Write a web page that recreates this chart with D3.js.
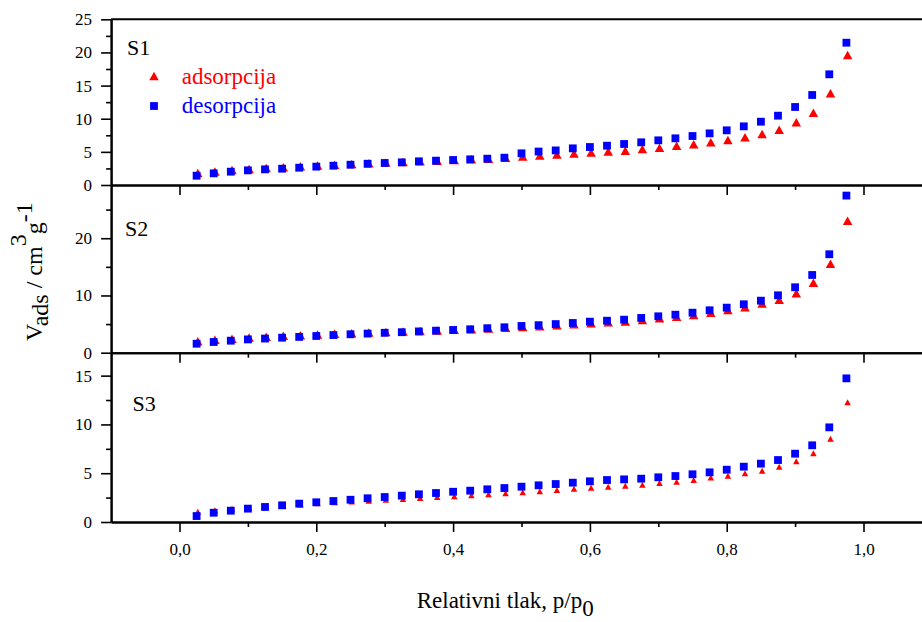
<!DOCTYPE html>
<html><head><meta charset="utf-8">
<script src="https://cdn.jsdelivr.net/npm/d3@7/dist/d3.min.js"></script>
<style>body{margin:0;background:#fff}svg{display:block}</style>
</head><body>
<svg id="c" width="922" height="622"></svg>
<script>
// ---- data ----
const pp = [0.025,0.05,0.075,0.1,0.125,0.15,0.175,0.2,0.225,0.25,0.275,0.3,0.325,0.35,0.375,0.4,0.425,0.45,0.475,0.5,
            0.525,0.55,0.575,0.6,0.625,0.65,0.675,0.7,0.725,0.75,0.775,0.8,0.825,0.85,0.875,0.9,0.925,0.95,0.975];
const ads1 = [1.8,2.05,2.25,2.42,2.57,2.68,2.82,2.93,3.04,3.16,3.28,3.38,3.48,3.58,3.67,3.77,3.87,3.96,4.1,4.3,
              4.45,4.6,4.75,4.9,5.05,5.18,5.43,5.63,5.93,6.14,6.44,6.79,7.2,7.7,8.35,9.46,10.91,13.83,19.61];
const des1 = [1.40,1.76,2.01,2.21,2.36,2.46,2.61,2.77,2.91,3.06,3.21,3.32,3.42,3.57,3.67,3.77,3.87,3.97,4.12,4.78,
              5.05,5.22,5.53,5.73,5.93,6.19,6.44,6.74,7.04,7.39,7.79,8.25,8.85,9.55,10.46,11.77,13.58,16.70,21.47];
const ads2 = [2.0,2.25,2.45,2.65,2.8,2.95,3.05,3.18,3.3,3.42,3.52,3.62,3.7,3.8,3.9,4.0,4.1,4.22,4.35,4.5,
              4.62,4.8,4.98,5.15,5.3,5.45,5.7,6.0,6.3,6.6,7.0,7.45,7.95,8.6,9.27,10.38,12.24,15.56,23.06];
const des2 = [1.57,1.87,2.10,2.32,2.47,2.62,2.76,2.92,3.08,3.22,3.34,3.48,3.58,3.72,3.85,3.97,4.09,4.28,4.44,4.67,
              4.81,5.0,5.19,5.42,5.59,5.77,6.07,6.36,6.64,6.99,7.41,7.87,8.46,9.09,10.03,11.43,13.58,17.20,27.45];
const ads3 = [1.05,1.2,1.35,1.47,1.58,1.7,1.8,1.92,2.02,2.1,2.18,2.27,2.36,2.45,2.55,2.65,2.75,2.85,2.95,3.05,
              3.15,3.27,3.4,3.5,3.62,3.72,3.82,4.0,4.13,4.30,4.55,4.74,4.99,5.26,5.67,6.22,7.04,8.54,12.26];
const des3 = [0.61,0.95,1.16,1.37,1.54,1.71,1.88,2.02,2.15,2.28,2.43,2.56,2.70,2.84,2.97,3.10,3.21,3.35,3.48,3.62,
              3.76,3.89,4.03,4.17,4.30,4.37,4.44,4.58,4.71,4.89,5.09,5.36,5.67,5.98,6.35,7.00,7.86,9.70,14.72];
const xMajor = [0,0.2,0.4,0.6,0.8,1.0];
const xMinor = [0.1,0.3,0.5,0.7,0.9];
const yMajor1 = [0,5,10,15,20,25], yMinor1 = [2.5,7.5,12.5,17.5,22.5];
const yMajor2 = [0,10,20],         yMinor2 = [5,15,25];
const yMajor3 = [0,5,10,15],       yMinor3 = [2.5,7.5,12.5];
const yMax = [25, 29.3, 17.35];
const panelNames = ['S1','S2','S3'];
const legendLabels = ['adsorpcija','desorpcija'];
const xTitle = 'Relativni tlak, p/p';
const xTitleSub = '0';

// ---- drawing ----
const svg = d3.select('#c');
const FONT = '"Liberation Serif","Times New Roman",serif';
const RED = '#ff0000', BLUE = '#0000ff';
const x = d3.scaleLinear().domain([-0.1, 1.1]).range([111.1, 931.9]);
const bands = [[185, 19.3], [352.7, 185], [522, 352.7]];
const panelData = [
  {ads: ads1, des: des1, major: yMajor1, minor: yMinor1, tri: [9.5, 8.5], sq: 7.8},
  {ads: ads2, des: des2, major: yMajor2, minor: yMinor2, tri: [9.5, 8.5], sq: 7.8},
  {ads: ads3, des: des3, major: yMajor3, minor: yMinor3, tri: [6.5, 6], sq: 7.8}
];
const comma = v => d3.format('.1f')(v).replace('.', ',');
const triPath = (w, h) => `M0,${-h/2}L${w/2},${h/2}L${-w/2},${h/2}Z`;

function styleAxis(g, labels) {
  g.select('.domain').attr('stroke', '#000').attr('stroke-width', 2);
  g.selectAll('.tick line').attr('stroke', '#000').attr('stroke-width', 1.6);
  g.selectAll('.tick text').attr('font-family', FONT).attr('font-size', 17).attr('fill', '#000');
  if (!labels) g.selectAll('.tick text').remove();
}

// top border
svg.append('line').attr('x1', x(-0.1)).attr('x2', x(1.1)).attr('y1', 19.3).attr('y2', 19.3)
  .attr('stroke', '#000').attr('stroke-width', 2);

panelData.forEach((p, i) => {
  const y = d3.scaleLinear().domain([0, yMax[i]]).range(bands[i]);
  const g = svg.append('g');
  // markers: adsorption triangles then desorption squares
  g.selectAll('path.a').data(p.ads).join('path').attr('class', 'a')
    .attr('d', triPath(p.tri[0], p.tri[1]))
    .attr('transform', (d, k) => `translate(${x(pp[k]) + 1.2},${y(d)})`)
    .attr('fill', RED);
  g.selectAll('rect.d').data(p.des).join('rect').attr('class', 'd')
    .attr('x', (d, k) => x(pp[k]) - p.sq / 2).attr('y', d => y(d) - p.sq / 2)
    .attr('width', p.sq).attr('height', p.sq).attr('fill', BLUE);

  // y axis
  const ya = svg.append('g').attr('transform', `translate(${x(-0.1)},0)`)
    .call(d3.axisLeft(y).tickValues(p.major).tickSize(10).tickSizeOuter(0).tickPadding(9).tickFormat(d3.format('d')));
  styleAxis(ya, true);
  const ym = svg.append('g').attr('transform', `translate(${x(-0.1)},0)`)
    .call(d3.axisLeft(y).tickValues(p.minor).tickSize(5).tickSizeOuter(0).tickFormat(''));
  styleAxis(ym, false);
  // x axis at bottom of panel
  const xa = svg.append('g').attr('transform', `translate(0,${bands[i][0]})`)
    .call(d3.axisBottom(x).tickValues(xMajor).tickSize(10).tickSizeOuter(0).tickPadding(11).tickFormat(comma));
  styleAxis(xa, i === 2);
  const xm = svg.append('g').attr('transform', `translate(0,${bands[i][0]})`)
    .call(d3.axisBottom(x).tickValues(xMinor).tickSize(5).tickSizeOuter(0).tickFormat(''));
  styleAxis(xm, false);
});

// panel labels
const labelPos = [[127, 55], [125, 236], [132.5, 411]];
panelNames.forEach((n, i) => {
  svg.append('text').attr('x', labelPos[i][0]).attr('y', labelPos[i][1])
    .attr('font-family', FONT).attr('font-size', 22).attr('fill', '#000').text(n);
});

// legend
const lg = svg.append('g');
lg.append('path').attr('d', triPath(9.5, 8.5)).attr('transform', 'translate(154,76)').attr('fill', RED);
lg.append('rect').attr('x', 154 - 3.9).attr('y', 106 - 3.9).attr('width', 7.8).attr('height', 7.8).attr('fill', BLUE);
lg.append('text').attr('x', 181.7).attr('y', 84).attr('font-family', FONT).attr('font-size', 23)
  .attr('fill', RED).text(legendLabels[0]);
lg.append('text').attr('x', 181.7).attr('y', 113).attr('font-family', FONT).attr('font-size', 23)
  .attr('fill', BLUE).text(legendLabels[1]);

// x title
const xt = svg.append('text').attr('x', 416.7).attr('y', 608).attr('font-family', FONT)
  .attr('font-size', 23).attr('fill', '#000');
xt.append('tspan').text(xTitle);
xt.append('tspan').attr('dy', 8).text(xTitleSub);

// y title
const yt = svg.append('text').attr('transform', 'translate(42,341) rotate(-90)')
  .attr('font-family', FONT).attr('font-size', 24).attr('fill', '#000');
yt.append('tspan').text('V');
yt.append('tspan').attr('dy', 6).text('ads');
yt.append('tspan').attr('dy', -6).text(' / cm');
yt.append('tspan').attr('dy', -16).text('3');
yt.append('tspan').attr('dy', 16).text('g');
yt.append('tspan').attr('dy', -10).text('-1');
</script>
</body></html>
